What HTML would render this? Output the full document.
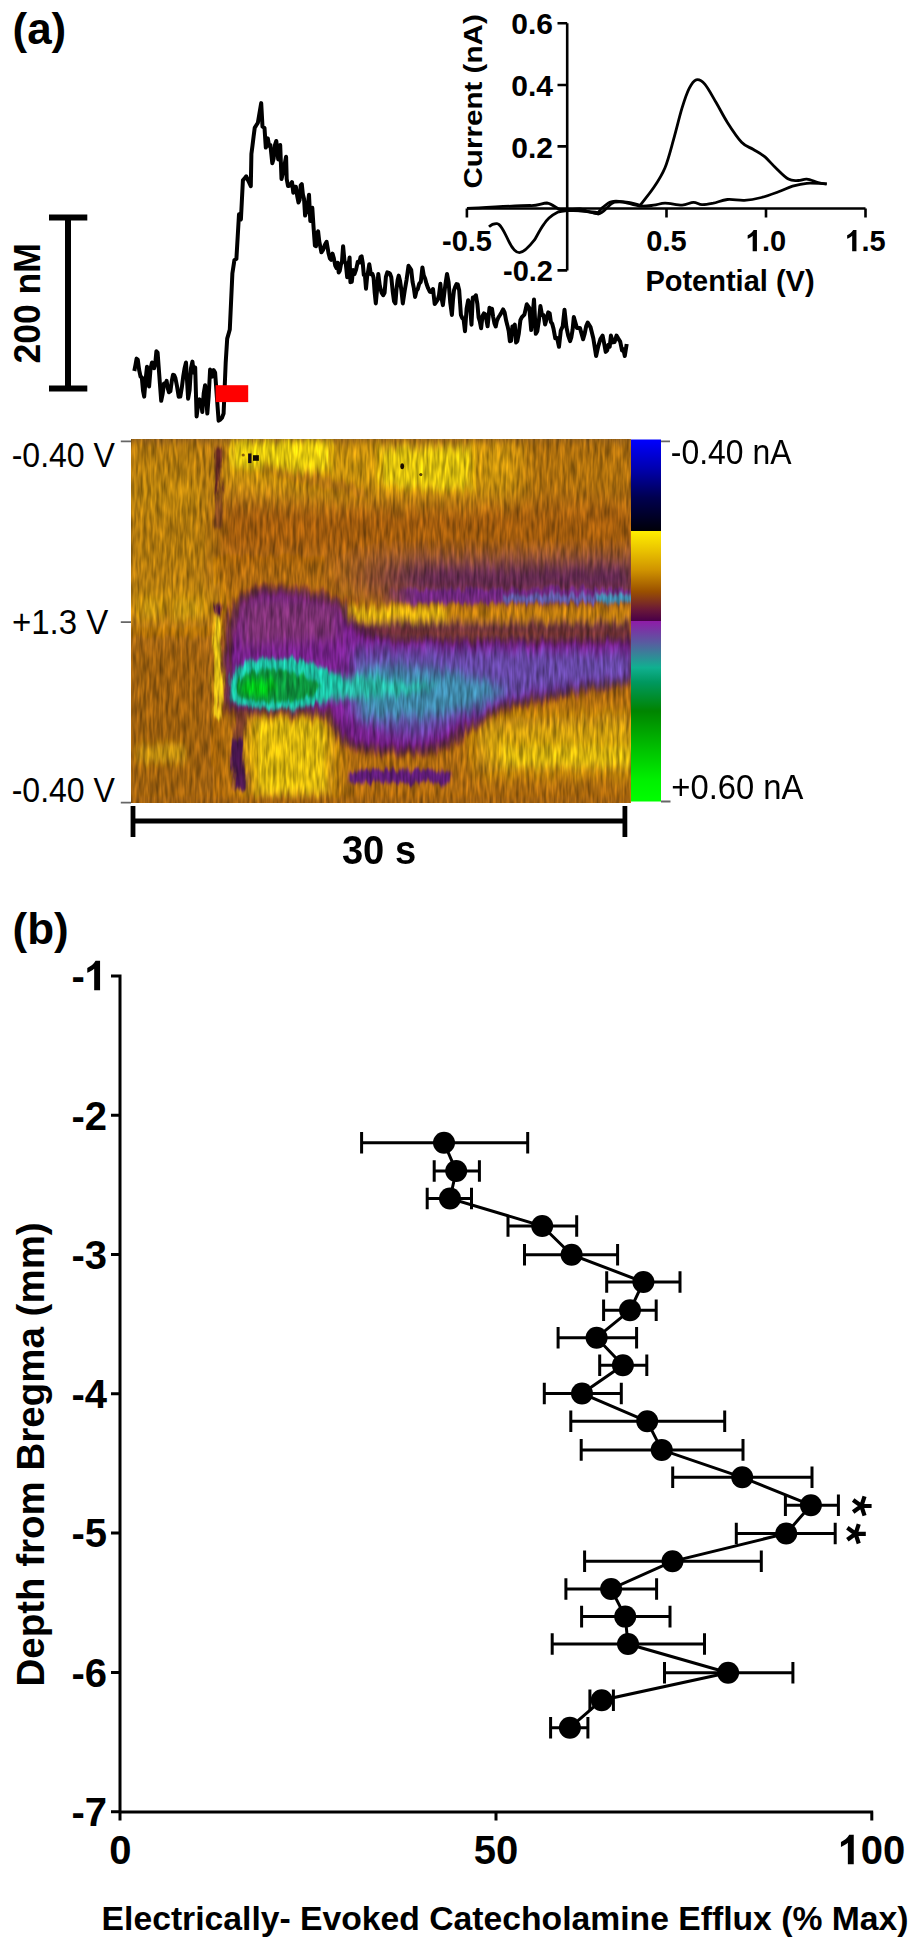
<!DOCTYPE html>
<html><head><meta charset="utf-8"><title>Figure</title>
<style>html,body{margin:0;padding:0;background:#fff;width:917px;height:1950px;overflow:hidden}svg{display:block}</style>
</head><body>
<svg width="917" height="1950" viewBox="0 0 917 1950">
<rect width="917" height="1950" fill="#fff"/>
<text x="12.5" y="44" style="font-family:'Liberation Sans',sans-serif;font-weight:bold;font-size:44px">(a)</text>
<path d="M68 215V391M49 217.6H87.3M49 388.5H87.3" stroke="#000" stroke-width="6" fill="none"/>
<text transform="translate(40,363.5) rotate(-90) scale(0.947,1)" style="font-family:'Liberation Sans',sans-serif;font-weight:bold;font-size:37.5px">200 nM</text>
<polyline fill="none" stroke="#000" stroke-width="4" stroke-linejoin="round" points="134.3,371.0 135.5,364.8 136.6,358.6 137.8,359.7 139.2,370.3 140.6,376.7 141.8,377.3 143.0,390.5 144.2,396.6 145.6,379.8 147.0,366.8 149.1,386.6 150.6,368.4 152.0,362.5 154.1,368.2 155.3,363.1 156.4,351.3 157.6,352.6 161.2,400.8 162.6,394.2 164.0,383.4 165.4,383.8 166.6,380.9 167.8,388.4 169.0,392.3 170.4,391.2 171.8,381.0 173.0,374.8 174.2,375.2 175.4,378.1 177.0,386.1 178.7,396.7 180.3,396.6 181.8,387.7 183.2,376.7 184.6,368.2 186.0,362.5 188.1,398.7 189.6,390.1 191.0,368.2 192.4,361.6 193.8,372.8 195.2,367.5 196.6,416.4 198.1,405.0 199.5,399.4 200.9,400.8 202.3,412.1 203.7,393.3 205.1,385.2 206.2,396.7 207.3,413.6 208.7,396.0 210.1,369.6 212.2,376.7 213.6,370.1 215.1,372.5 218.6,420.7 220.3,419.5 221.9,417.9 223.6,413.6 225.7,362.5 227.2,338.6 228.5,334.1 229.8,329.5 232.4,273.2 234.4,260.1 236.4,258.8 237.7,236.6 239.0,214.3 240.9,219.5 242.9,180.3 244.0,179.0 245.1,177.7 246.2,176.4 247.7,179.7 249.3,182.9 250.8,186.2 251.4,154.1 252.5,145.4 253.6,136.6 254.7,127.9 256.3,125.3 257.9,122.7 259.0,116.2 260.1,109.6 261.2,103.1 262.5,126.6 264.5,127.9 265.8,147.6 267.8,138.4 269.1,145.8 270.4,145.0 272.3,163.3 273.6,158.7 275.0,144.9 276.3,141.0 278.2,159.4 280.2,145.0 281.5,179.0 283.0,172.6 284.6,164.5 286.1,156.7 286.7,179.0 288.0,186.0 289.4,185.7 290.7,184.2 292.0,182.1 293.3,192.7 294.6,186.8 295.9,186.7 297.2,196.1 298.5,202.5 299.6,200.0 300.7,185.4 301.8,184.2 302.9,194.5 304.0,198.7 305.1,215.6 306.4,211.0 307.7,205.4 309.0,194.7 310.3,220.9 312.3,207.8 313.6,227.8 314.9,245.7 316.0,246.2 317.0,233.5 318.1,231.3 319.2,241.0 320.3,246.6 321.4,252.3 323.1,249.9 324.9,244.7 326.6,241.8 328.6,253.6 329.9,258.4 331.2,259.8 332.5,253.6 333.8,258.0 335.2,265.5 336.5,268.0 337.6,262.7 338.7,272.6 339.8,270.7 340.9,264.6 342.0,261.3 343.1,246.2 344.5,261.1 345.8,263.9 347.2,277.3 348.4,265.9 349.6,257.6 350.4,282.2 351.8,281.8 353.1,270.0 354.5,274.0 356.1,269.6 357.8,261.7 359.4,262.5 360.5,257.1 361.6,256.3 362.7,262.5 363.8,275.0 364.9,274.8 366.0,288.7 367.1,277.0 368.2,270.8 369.3,264.2 370.9,274.3 372.5,274.0 373.6,277.9 374.7,292.9 375.8,303.4 377.1,289.4 378.3,274.0 379.9,286.4 381.6,292.6 383.2,295.2 384.6,292.7 385.9,276.8 387.3,272.3 388.6,272.8 390.0,273.7 391.3,277.3 392.7,291.4 394.0,301.1 395.4,303.4 396.5,289.2 397.6,280.3 398.7,275.6 400.1,281.1 401.4,290.4 402.8,303.4 404.7,290.7 406.6,279.6 408.5,265.8 409.9,267.9 411.2,269.8 412.6,282.2 413.9,288.4 415.1,296.9 416.5,290.7 417.8,289.1 419.2,283.8 420.8,281.9 422.4,267.4 423.8,275.5 425.1,278.6 426.5,283.8 428.1,288.2 429.8,291.7 431.4,292.0 433.0,289.0 434.7,304.1 436.3,301.8 437.7,299.7 439.0,295.0 440.4,283.8 441.6,298.6 442.9,305.1 444.3,293.2 445.6,283.0 447.0,274.0 448.6,282.1 450.3,303.1 451.9,314.9 453.0,299.5 454.0,290.3 455.1,287.1 456.5,284.1 457.8,284.5 459.2,290.3 460.9,314.9 462.3,318.1 463.6,319.5 465.0,331.2 466.6,308.7 468.2,300.2 469.3,303.5 470.4,311.0 471.5,324.7 472.8,297.6 474.3,297.9 475.9,295.3 477.4,304.1 478.6,317.4 479.9,321.8 481.1,328.2 482.5,315.9 483.9,313.4 485.1,314.2 486.4,319.9 487.6,326.3 489.5,307.8 490.7,309.0 492.0,308.7 493.2,317.1 494.4,323.2 495.7,326.5 496.9,320.8 498.4,317.5 500.0,315.0 501.5,312.4 503.1,309.4 504.6,312.4 506.2,320.8 507.4,325.4 508.7,331.1 509.9,341.2 511.1,340.8 512.4,326.5 513.6,326.3 514.8,324.6 516.1,342.5 517.3,341.2 518.8,333.6 520.4,320.2 521.9,317.1 524.4,314.6 526.8,304.3 529.3,307.8 531.2,330.0 532.6,315.1 534.0,299.5 535.8,333.8 537.3,331.2 538.9,320.4 540.4,306.0 542.0,314.9 543.5,315.0 545.1,324.5 546.6,318.9 548.2,312.4 549.7,313.4 550.9,322.1 552.2,323.7 553.4,328.2 555.3,338.3 557.1,338.1 559.0,346.7 560.8,330.5 562.7,326.4 564.5,309.7 566.4,327.0 568.2,335.6 570.1,341.2 571.3,337.5 572.6,329.6 573.8,317.1 576.9,327.9 580.0,328.1 583.1,339.3 584.6,334.0 586.2,326.1 587.7,322.6 590.5,327.1 593.3,338.3 596.1,356.0 598.3,346.1 600.4,339.0 602.6,335.6 604.1,343.2 605.7,351.9 607.2,350.4 608.4,344.7 609.7,346.7 610.9,335.6 612.8,342.4 614.6,342.0 616.5,335.6 618.3,338.6 620.2,341.6 622.0,350.4 623.4,349.4 624.8,356.0 626.7,344.0"/>
<rect x="215.6" y="385.2" width="32.6" height="16.9" fill="#f00"/>
<path d="M567.2 23.2V270.4M557.5 23.2H567.2M557.5 85H567.2M557.5 146.4H567.2M557.5 270.4H567.2M466.9 208.5H865.5M466.9 208.5V217.5M666.5 208.5V217.5M766 208.5V217.5M865.5 208.5V217.5" stroke="#000" stroke-width="2.6" fill="none"/>
<text x="553" y="34" text-anchor="end" style="font-family:'Liberation Sans',sans-serif;font-weight:bold;font-size:30px">0.6</text>
<text x="553" y="96.2" text-anchor="end" style="font-family:'Liberation Sans',sans-serif;font-weight:bold;font-size:30px">0.4</text>
<text x="553" y="158" text-anchor="end" style="font-family:'Liberation Sans',sans-serif;font-weight:bold;font-size:30px">0.2</text>
<text x="553" y="281" text-anchor="end" style="font-family:'Liberation Sans',sans-serif;font-weight:bold;font-size:29px">-0.2</text>
<text x="467" y="251.3" text-anchor="middle" style="font-family:'Liberation Sans',sans-serif;font-weight:bold;font-size:29px">-0.5</text>
<text x="666.5" y="251.3" text-anchor="middle" style="font-family:'Liberation Sans',sans-serif;font-weight:bold;font-size:29px">0.5</text>
<path transform="translate(745.85,251.30) scale(0.725)" d="M9.4 0V-21.5C7.5-19.8 5-18.3 2.5-17.4V-22.3C6-23.8 9-26.5 10.8-29.5H15.3V0Z"/>
<text x="761.97" y="251.3" style="font-family:'Liberation Sans',sans-serif;font-weight:bold;font-size:29px">.0</text>
<path transform="translate(845.35,251.30) scale(0.725)" d="M9.4 0V-21.5C7.5-19.8 5-18.3 2.5-17.4V-22.3C6-23.8 9-26.5 10.8-29.5H15.3V0Z"/>
<text x="861.47" y="251.3" style="font-family:'Liberation Sans',sans-serif;font-weight:bold;font-size:29px">.5</text>
<text x="730" y="291" text-anchor="middle" style="font-family:'Liberation Sans',sans-serif;font-weight:bold;font-size:29px">Potential (V)</text>
<text transform="translate(481.5,188.5) rotate(-90) scale(1,0.88)" style="font-family:'Liberation Sans',sans-serif;font-weight:bold;font-size:29.6px">Current (nA)</text>
<path d="M639.5 206.0C641.9 202.9 649.5 194.0 653.7 187.6C658.0 181.2 661.7 175.7 665.0 167.7C668.3 159.7 670.8 149.3 673.6 139.4C676.4 129.5 679.4 116.7 682.0 108.2C684.6 99.7 686.8 93.1 689.2 88.4C691.6 83.7 693.6 80.5 696.2 79.8C698.8 79.1 701.5 80.3 704.8 84.1C708.1 87.9 712.3 96.1 716.1 102.5C719.9 108.9 723.1 115.8 727.4 122.4C731.6 129.0 737.3 137.7 741.6 142.2C745.9 146.7 749.2 146.9 753.0 149.3C756.8 151.7 760.5 153.3 764.3 156.4C768.1 159.5 771.6 163.9 775.6 167.7C779.6 171.5 784.6 177.0 788.4 179.1C792.2 181.2 795.2 180.5 798.3 180.5C801.4 180.5 803.5 178.8 806.8 179.1C810.1 179.4 814.9 181.7 818.2 182.5C821.5 183.3 825.3 183.7 826.7 183.9" fill="none" stroke="#000" stroke-width="2.8" stroke-linejoin="round"/>
<path d="M826.7 183.9C823.4 183.8 812.5 182.9 806.8 183.3C801.1 183.7 797.3 184.8 792.6 186.2C787.9 187.6 783.7 189.9 778.5 191.8C773.3 193.7 767.2 196.1 761.5 197.5C755.8 198.9 750.1 200.0 744.4 200.3C738.7 200.6 732.6 199.0 727.4 199.5C722.2 200.0 717.5 202.3 713.3 203.2C709.0 204.0 705.2 204.8 701.9 204.6C698.6 204.4 696.7 202.2 693.4 202.3C690.1 202.4 686.8 205.0 682.1 205.2C677.4 205.3 669.8 203.2 665.1 203.2C660.4 203.2 658.0 204.7 653.7 205.2C649.4 205.7 644.7 206.6 639.5 206.0C634.3 205.4 627.2 202.5 622.5 201.8C617.8 201.1 614.5 200.9 611.2 201.8C607.9 202.7 605.1 205.5 602.7 207.4C600.3 209.3 599.4 212.4 597.0 213.1C594.6 213.8 591.3 212.4 588.5 211.7C585.7 211.0 583.6 209.2 580.0 209.0C576.4 208.8 569.2 210.1 567.0 210.3" fill="none" stroke="#000" stroke-width="2.8" stroke-linejoin="round"/>
<path d="M467 208.4 C490 207.5 515 205.5 530 205.5 C538 206 542 203 546.9 203 C551 203.5 555 207 559 209.2 C562 210 564 210 567 210.2 C580 210 590 212 598 214 C605 213 608 204 615 202 C625 201 632 203 642 206" fill="none" stroke="#000" stroke-width="2.8"/>
<path d="M489 226.7 C492 224 494 223.5 497 223.7 C500 224 503 229 508.7 241.2 C512 248 515 252.7 519.4 252.7 C524 252.5 529 247 534.7 239.7 C539 232 541 228 543.8 224.4 C547 219 550 216 557.6 212.2 C560 211.5 563 211 567 210.5 C580 211 590 211 600 213" fill="none" stroke="#000" stroke-width="2.8"/>
<defs><clipPath id="hc"><rect x="131" y="439.6" width="499.5" height="362.6"/></clipPath><filter id="bs" x="-50%" y="-50%" width="200%" height="200%"><feGaussianBlur stdDeviation="0.6"/></filter><filter id="b2" x="-20%" y="-20%" width="140%" height="140%"><feGaussianBlur stdDeviation="1.8"/></filter><filter id="b4" x="-20%" y="-20%" width="140%" height="140%"><feGaussianBlur stdDeviation="3.5"/></filter><filter id="b7" x="-20%" y="-20%" width="140%" height="140%"><feGaussianBlur stdDeviation="6"/></filter><filter id="b12" x="-20%" y="-20%" width="140%" height="140%"><feGaussianBlur stdDeviation="11"/></filter><filter id="dsp" x="0" y="0" width="100%" height="100%" color-interpolation-filters="sRGB"><feTurbulence type="fractalNoise" baseFrequency="0.2 0.03" numOctaves="2" seed="5" result="n"/><feColorMatrix in="n" type="matrix" values="1 0 0 0 0  1 0 0 0 0  1 0 0 0 0  0 0 0 0 1" result="g"/><feDisplacementMap in="SourceGraphic" in2="n" scale="12" xChannelSelector="R" yChannelSelector="G" result="d"/><feTurbulence type="fractalNoise" baseFrequency="0.3 0.05" numOctaves="2" seed="9" result="n2"/><feColorMatrix in="n2" type="matrix" values="1 0 0 0 0  1 0 0 0 0  1 0 0 0 0  0 0 0 0 1" result="g2"/><feComposite in="d" in2="g2" operator="arithmetic" k1="0.9" k2="0.55" k3="0" k4="0"/><feGaussianBlur stdDeviation="0.7 1.2"/></filter><linearGradient id="dg" x1="0" y1="0" x2="1" y2="0"><stop offset="0" stop-color="#5a2456" stop-opacity="0"/><stop offset="0.3" stop-color="#5a2456" stop-opacity="1"/></linearGradient><linearGradient id="pg" x1="0" y1="0" x2="1" y2="0"><stop offset="0" stop-color="#6e2488" stop-opacity="0"/><stop offset="0.14" stop-color="#6e2488" stop-opacity="1"/></linearGradient></defs>
<g clip-path="url(#hc)">
<rect x="131" y="439.6" width="499.5" height="362.6" fill="#ae6a10"/>
<g filter="url(#dsp)"><rect x="121" y="429.6" width="519.5" height="382.6" fill="#ae6a10"/>
<g filter="url(#b12)"><path d="M221 436 H640 V498 C600 500 540 500 490 498 C420 500 300 498 221 492 Z" fill="#c8920e"/><path d="M120 436 H213 V580 H120 Z" fill="#b27a10"/><path d="M120 640 H213 V800 H120 Z" fill="#9e600e"/><path d="M215 505 H640 V556 H215 Z" fill="#a25c0c"/><path d="M120 484 H213 V504 H120 Z" fill="#bc860e"/><path d="M120 584 H222 V624 H120 Z" fill="#c0880e"/><path d="M245 716 H334 V800 H245 Z" fill="#d2a60e"/><path d="M476 722 C540 716 600 716 640 716 V772 H476 Z" fill="#cc9e0e"/><path d="M330 560 C420 562 520 562 640 560 V596 H330 Z" fill="url(#dg)"/><path d="M520 436 H640 V500 H520 Z" fill="#ae700e"/></g>
<g filter="url(#b4)"><path d="M232 442 H330 V470 C300 472 260 470 232 468 Z" fill="#e2c810"/><path d="M380 448 H472 V488 C440 490 400 488 380 484 Z" fill="#dcc010"/><path d="M256 722 H324 V792 H256 Z" fill="#dcb80e"/><path d="M500 746 H632 V766 H500 Z" fill="#d8b40e"/><path d="M120 797 H640 V810 H120 Z" fill="#a06010"/><path d="M138 744 H185 V763 H138 Z" fill="#c8980e" opacity="0.8"/><path d="M140 600 H160 V618 H140 Z M175 600 H200 V618 H175 Z" fill="#cc9c0e" opacity="0.8"/><path d="M120 430 H640 V442 H120 Z" fill="#8a5a1a" opacity="0.8"/><path d="M262 462 C300 470 330 480 370 490 L366 498 C326 490 296 480 258 470 Z" fill="#a05a10" opacity="0.6"/></g>
<g filter="url(#b2)"><path d="M380 590 C480 588 560 588 632 588 V604 H380 Z" fill="url(#pg)" opacity="0.9"/><path d="M503 595 H632 V602 H503 Z" fill="#5a70b8" opacity="0.75"/><path d="M598 594 H632 V603 H598 Z" fill="#30a0b0" opacity="0.7"/></g>
<g filter="url(#b4)"><path d="M338 607 H632 V620 H338 Z" fill="#bc7a0c"/><path d="M338 607 H448 V620 H338 Z" fill="#dcb010"/><path d="M343 623 H632 V634 H343 Z" fill="#5e2448" opacity="0.85"/></g>
<path d="M226 690 C226 650 232 606 244 597 C258 590 280 588 300 593 C320 597 336 600 342 606 C346 620 354 632 384 637 C450 640 560 639 632 638 V680 C600 684 560 692 520 702 C480 712 460 740 430 748 C400 752 372 750 350 746 C340 738 336 724 330 712 C300 710 262 710 240 712 C230 708 226 700 226 690 Z" fill="#78228e" filter="url(#b4)"/>
<path d="M226 690 C226 650 232 606 244 597 C258 590 280 588 300 593 C320 597 336 600 342 606 C346 620 354 632 384 637 C450 640 560 639 632 638 V680 C600 684 560 692 520 702 C480 712 460 740 430 748 C400 752 372 750 350 746 C340 738 336 724 330 712 C300 710 262 710 240 712 C230 708 226 700 226 690 Z" fill="none" stroke="#3e0e3c" stroke-width="7" opacity="0.75" filter="url(#b4)"/>
<path d="M350 648 C450 650 560 652 632 652 V680 C600 684 560 688 520 696 C480 708 455 726 425 736 C395 738 370 730 352 712 Z" fill="#5c5cb0" filter="url(#b7)" opacity="0.65"/>
<path d="M238 600 C290 596 325 598 340 606 L338 640 C300 640 270 644 240 646 Z" fill="#8a5a30" filter="url(#b7)" opacity="0.28"/>
<path d="M360 666 C420 664 470 672 505 690 C470 714 420 724 360 716 Z" fill="#309ca8" filter="url(#b7)" opacity="0.75"/>
<path d="M300 674 C340 674 380 678 440 686 C400 698 350 700 300 700 Z" fill="#26b4a0" filter="url(#b4)"/>
<path d="M229 686 C229 664 250 657 285 658 C312 660 330 670 345 684 C330 700 312 708 285 709 C258 710 238 708 231 700 Z" fill="#1ebca0" filter="url(#b2)"/>
<path d="M237 686 C238 672 252 668 280 670 C300 672 315 678 322 687 C314 697 300 701 280 702 C258 703 243 700 238 694 Z" fill="#0a923e" filter="url(#b2)"/>
<ellipse cx="259" cy="687" rx="17" ry="9" fill="#00c418" filter="url(#b4)"/>
<g filter="url(#b2)"><rect x="215" y="445" width="6.5" height="48" fill="#5a2420"/><rect x="215.5" y="490" width="5" height="38" fill="#6a3420" opacity="0.75"/><rect x="214" y="617" width="7.5" height="102" rx="3.5" fill="#e0c018"/><ellipse cx="218.3" cy="609.5" rx="4.2" ry="7" fill="#4a1048"/><rect x="233" y="712" width="11" height="30" rx="5" fill="#6a3030" opacity="0.8"/><rect x="232" y="738" width="12.5" height="52" rx="5" fill="#4a1450"/><path d="M349 771 C390 769 425 769 452 772 V782 C425 784 390 784 349 782 Z" fill="#5e1a78"/></g>
</g>
<g filter="url(#bs)"><rect x="248.1" y="453.5" width="3.3" height="9.6" fill="#180818"/><rect x="253" y="455.2" width="5.9" height="5.6" fill="#140c04"/><circle cx="243.2" cy="455" r="1.6" fill="#8a6010"/><ellipse cx="402.2" cy="466.3" rx="1.9" ry="3" fill="#1e1004"/><circle cx="420.8" cy="474.6" r="1.6" fill="#5a4008"/></g>
</g>
<defs><linearGradient id="cb" x1="0" y1="0" x2="0" y2="1"><stop offset="0" stop-color="#0000ff"/><stop offset="0.08" stop-color="#0000b0"/><stop offset="0.16" stop-color="#000050"/><stop offset="0.253" stop-color="#000008"/><stop offset="0.2531" stop-color="#ffee00"/><stop offset="0.31" stop-color="#e8c000"/><stop offset="0.36" stop-color="#d09400"/><stop offset="0.42" stop-color="#9a5000"/><stop offset="0.47" stop-color="#6a1838"/><stop offset="0.5" stop-color="#4a0048"/><stop offset="0.5001" stop-color="#901aa8"/><stop offset="0.56" stop-color="#5a5aa0"/><stop offset="0.63" stop-color="#10b090"/><stop offset="0.67" stop-color="#009860"/><stop offset="0.75" stop-color="#008400"/><stop offset="0.84" stop-color="#00b800"/><stop offset="0.94" stop-color="#00f000"/><stop offset="1" stop-color="#00ff00"/></linearGradient></defs>
<rect x="631" y="439.5" width="30" height="362" fill="url(#cb)"/>
<path d="M120.8 441.3H131M120.8 622.2H131M120.8 802.6H131M661 441.3H670M661 801.5H670.5" stroke="#666" stroke-width="1.8"/>
<text transform="translate(11.7,466.5) scale(0.915,1)" style="font-family:'Liberation Sans',sans-serif;font-size:35px">-0.40 V</text>
<text transform="translate(12,634) scale(0.943,1)" style="font-family:'Liberation Sans',sans-serif;font-size:35px">+1.3 V</text>
<text transform="translate(11.7,802) scale(0.915,1)" style="font-family:'Liberation Sans',sans-serif;font-size:35px">-0.40 V</text>
<text transform="translate(670.8,464) scale(0.912,1)" style="font-family:'Liberation Sans',sans-serif;font-size:35px">-0.40 nA</text>
<text transform="translate(671.3,798.7) scale(0.937,1)" style="font-family:'Liberation Sans',sans-serif;font-size:35px">+0.60 nA</text>
<path d="M131 821H627M133 806V837M624.9 806V837" stroke="#000" stroke-width="4.8" fill="none"/>
<text transform="translate(379,863.5) scale(0.93,1)" text-anchor="middle" style="font-family:'Liberation Sans',sans-serif;font-weight:bold;font-size:41px">30 s</text>
<text x="12.5" y="943.5" style="font-family:'Liberation Sans',sans-serif;font-weight:bold;font-size:44px">(b)</text>
<path d="M120 974.4V1813.3M118.5 1812H873.2M111 975.9H120M111 1115.2H120M111 1254.5H120M111 1393.8H120M111 1533.1H120M111 1672.4H120M111 1811.7H120M120 1812V1820.5M496 1812V1820.5M871.8 1812V1820.5" stroke="#000" stroke-width="3" fill="none"/>
<text x="71.44" y="990.2" style="font-family:'Liberation Sans',sans-serif;font-weight:bold;font-size:40px">-</text>
<path transform="translate(84.77,990.20) scale(1.0)" d="M9.4 0V-21.5C7.5-19.8 5-18.3 2.5-17.4V-22.3C6-23.8 9-26.5 10.8-29.5H15.3V0Z"/>
<text x="107" y="1129.5" text-anchor="end" style="font-family:'Liberation Sans',sans-serif;font-weight:bold;font-size:40px">-2</text>
<text x="107" y="1268.8" text-anchor="end" style="font-family:'Liberation Sans',sans-serif;font-weight:bold;font-size:40px">-3</text>
<text x="107" y="1408.1" text-anchor="end" style="font-family:'Liberation Sans',sans-serif;font-weight:bold;font-size:40px">-4</text>
<text x="107" y="1547.4" text-anchor="end" style="font-family:'Liberation Sans',sans-serif;font-weight:bold;font-size:40px">-5</text>
<text x="107" y="1686.7" text-anchor="end" style="font-family:'Liberation Sans',sans-serif;font-weight:bold;font-size:40px">-6</text>
<text x="107" y="1826.0" text-anchor="end" style="font-family:'Liberation Sans',sans-serif;font-weight:bold;font-size:40px">-7</text>
<text x="120.4" y="1864.3" text-anchor="middle" style="font-family:'Liberation Sans',sans-serif;font-weight:bold;font-size:40px">0</text>
<text x="496" y="1864.3" text-anchor="middle" style="font-family:'Liberation Sans',sans-serif;font-weight:bold;font-size:40px">50</text>
<path transform="translate(838.45,1864.30) scale(1.0)" d="M9.4 0V-21.5C7.5-19.8 5-18.3 2.5-17.4V-22.3C6-23.8 9-26.5 10.8-29.5H15.3V0Z"/>
<text x="860.69" y="1864.3" style="font-family:'Liberation Sans',sans-serif;font-weight:bold;font-size:40px">00</text>
<text transform="translate(44,1686.5) rotate(-90)" style="font-family:'Liberation Sans',sans-serif;font-weight:bold;font-size:38.5px">Depth from Bregma (mm)</text>
<text x="101.6" y="1930" style="font-family:'Liberation Sans',sans-serif;font-weight:bold;font-size:33.7px">Electrically- Evoked Catecholamine Efflux (% Max)</text>
<path d="M361.6 1142.8H527.7M361.6 1132.0V1153.6M527.7 1132.0V1153.6M434.2 1171H479.4M434.2 1160.2V1181.8M479.4 1160.2V1181.8M427.2 1198.5H471.5M427.2 1187.7V1209.3M471.5 1187.7V1209.3M508 1226H576.7M508 1215.2V1236.8M576.7 1215.2V1236.8M524.5 1254.7H617.6M524.5 1243.9V1265.5M617.6 1243.9V1265.5M606.7 1282H680M606.7 1271.2V1292.8M680 1271.2V1292.8M603.6 1310.3H656.2M603.6 1299.5V1321.1M656.2 1299.5V1321.1M558.1 1337.7H636.6M558.1 1326.9V1348.5M636.6 1326.9V1348.5M599.7 1365.2H646.8M599.7 1354.4V1376.0M646.8 1354.4V1376.0M544.3 1393.5H621.3M544.3 1382.7V1404.3M621.3 1382.7V1404.3M570.8 1421.3H724.7M570.8 1410.5V1432.1M724.7 1410.5V1432.1M581.2 1449.9H743M581.2 1439.1000000000001V1460.7M743 1439.1000000000001V1460.7M672.7 1477.3H812M672.7 1466.5V1488.1M812 1466.5V1488.1M785.4 1505.2H838.4M785.4 1494.4V1516.0M838.4 1494.4V1516.0M736.3 1533.5H835.2M736.3 1522.7V1544.3M835.2 1522.7V1544.3M584.6 1561.3H761.3M584.6 1550.5V1572.1M761.3 1550.5V1572.1M565.9 1589H656.6M565.9 1578.2V1599.8M656.6 1578.2V1599.8M581.6 1616.6H670M581.6 1605.8V1627.3999999999999M670 1605.8V1627.3999999999999M552.2 1644H704.5M552.2 1633.2V1654.8M704.5 1633.2V1654.8M664.5 1672.7H792.9M664.5 1661.9V1683.5M792.9 1661.9V1683.5M589.9 1700.2H613.4M589.9 1689.4V1711.0M613.4 1689.4V1711.0M550.6 1727.7H587.9M550.6 1716.9V1738.5M587.9 1716.9V1738.5" stroke="#000" stroke-width="3" fill="none"/>
<polyline fill="none" stroke="#000" stroke-width="3" points="444,1142.8 456.2,1171 450,1198.5 542.2,1226 571.6,1254.7 643.4,1282 630,1310.3 596.6,1337.7 622.9,1365.2 582,1393.5 647.2,1421.3 661.7,1449.9 742.2,1477.3 810.9,1505.2 786.2,1533.5 672.5,1561.3 611.1,1589 625.2,1616.6 628,1644 728.1,1672.7 601.7,1700.2 569.9,1727.7"/>
<circle cx="444" cy="1142.8" r="11"/>
<circle cx="456.2" cy="1171" r="11"/>
<circle cx="450" cy="1198.5" r="11"/>
<circle cx="542.2" cy="1226" r="11"/>
<circle cx="571.6" cy="1254.7" r="11"/>
<circle cx="643.4" cy="1282" r="11"/>
<circle cx="630" cy="1310.3" r="11"/>
<circle cx="596.6" cy="1337.7" r="11"/>
<circle cx="622.9" cy="1365.2" r="11"/>
<circle cx="582" cy="1393.5" r="11"/>
<circle cx="647.2" cy="1421.3" r="11"/>
<circle cx="661.7" cy="1449.9" r="11"/>
<circle cx="742.2" cy="1477.3" r="11"/>
<circle cx="810.9" cy="1505.2" r="11"/>
<circle cx="786.2" cy="1533.5" r="11"/>
<circle cx="672.5" cy="1561.3" r="11"/>
<circle cx="611.1" cy="1589" r="11"/>
<circle cx="625.2" cy="1616.6" r="11"/>
<circle cx="628" cy="1644" r="11"/>
<circle cx="728.1" cy="1672.7" r="11"/>
<circle cx="601.7" cy="1700.2" r="11"/>
<circle cx="569.9" cy="1727.7" r="11"/>
<path d="M861.40 1506.00L871.60 1506.00M861.40 1506.00L864.55 1515.70M861.40 1506.00L853.15 1512.00M861.40 1506.00L853.15 1500.00M861.40 1506.00L864.55 1496.30" stroke="#000" stroke-width="4.2" fill="none"/>
<path d="M855.60 1533.80L865.80 1533.80M855.60 1533.80L858.75 1543.50M855.60 1533.80L847.35 1539.80M855.60 1533.80L847.35 1527.80M855.60 1533.80L858.75 1524.10" stroke="#000" stroke-width="4.2" fill="none"/>
</svg>
</body></html>
